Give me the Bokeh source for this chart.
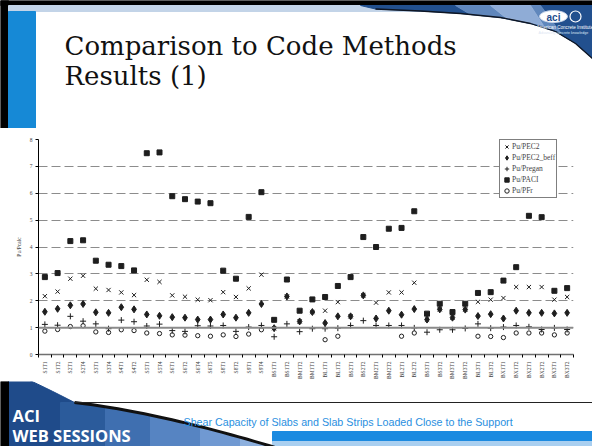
import numpy as np
from math import pi
from bokeh.plotting import figure
from bokeh.layouts import column
from bokeh.models import (ColumnDataSource, Range1d, LinearAxis, FixedTicker, Grid, Span)
from bokeh.core.properties import value
from bokeh.embed import file_html
from bokeh.resources import INLINE

nan = np.nan

categories = ["S1T1","S1T2","S2T1","S2T4","S3T1","S3T4","S4T1","S4T2","S5T1","S5T4",
              "S6T1","S6T2","S6T4","S6T5","S8T1","S8T2","S9T1","S9T4","BS1T1","BS1T2",
              "BM1T2","BM1T1","BL1T1","BL1T2","BS2T1","BS2T2","BM2T1","BM2T2","BL2T1","BL2T2",
              "BS3T1","BS3T2","BM3T1","BM3T2","BL3T1","BL3T2","BX1T1","BX1T2","BX2T1","BX2T2",
              "BX3T1","BX3T2"]

pu_pec2 = [2.17,2.34,2.82,2.93,2.45,2.40,2.31,2.21,2.78,2.70,
           2.20,2.15,2.04,2.02,2.32,2.14,2.46,2.97,0.98,2.16,
           1.23,1.58,1.63,1.95,1.42,2.20,1.93,2.31,2.31,2.67,
           1.30,1.68,1.37,1.67,1.96,2.04,2.10,2.51,2.51,2.51,
           2.04,2.14]
pu_pec2_beff = [1.59,1.70,1.83,1.88,1.57,1.55,1.76,1.68,1.49,1.44,
                1.39,1.37,1.30,1.30,1.49,1.37,1.55,1.88,0.98,2.16,
                1.23,1.58,1.17,1.42,1.42,2.20,1.34,1.63,1.48,1.69,
                1.30,1.68,1.37,1.67,1.43,1.50,1.34,1.63,1.55,1.55,
                1.53,1.55]
pu_pregan = [1.12,1.09,1.42,1.24,1.14,0.96,1.28,1.22,1.06,1.13,
             0.89,0.86,1.07,1.06,1.08,0.86,1.02,1.08,0.66,1.14,
             0.85,0.96,0.96,0.98,1.08,1.26,1.08,1.08,1.08,0.99,
             0.83,0.92,0.92,0.97,1.14,0.98,1.02,1.08,1.03,0.93,
             0.99,0.93]
pu_paci = [2.88,3.03,4.22,4.25,3.49,3.34,3.29,3.13,7.49,7.52,
           5.89,5.78,5.69,5.63,3.12,2.82,5.12,6.04,1.29,2.79,
           1.63,2.05,2.14,2.55,2.88,4.37,4.00,4.68,4.71,5.33,
           1.52,1.89,1.58,1.89,2.29,2.32,2.75,3.25,5.16,5.11,
           2.37,2.47]
pu_pfr = [0.87,0.93,1.04,1.07,0.84,0.82,0.92,0.89,0.80,0.78,
          0.73,0.72,0.70,0.68,0.73,0.67,0.76,0.92,nan,nan,
          nan,nan,0.55,0.68,nan,nan,nan,nan,0.68,0.80,
          nan,nan,nan,nan,0.68,0.67,0.63,0.80,0.80,0.80,
          0.73,0.80]

series_labels = ["Pu/PEC2", "Pu/PEC2_beff", "Pu/Pregan", "Pu/PACI", "Pu/PFr"]
y_ticks = [0, 1, 2, 3, 4, 5, 6, 7, 8]
y_axis_title = "Pu/Pcalc"
title_lines = ["Comparison to Code Methods", "Results (1)"]
footer_text = "Shear Capacity of Slabs and Slab Strips Loaded Close to the Support"
brand_lines = ["ACI", "WEB SESSIONS"]

idx = list(range(len(categories)))
src = ColumnDataSource(dict(
    x=idx,
    pec2=np.array(pu_pec2, dtype=float),
    beff=np.array(pu_pec2_beff, dtype=float),
    pregan=np.array(pu_pregan, dtype=float),
    paci=np.array(pu_paci, dtype=float),
    pfr=np.array(pu_pfr, dtype=float),
))

W = 592
SERIF = "Liberation Serif"
TOP_H, CHART_H = 128, 253
BOT_H = 446 - TOP_H - CHART_H
FRAME_H = CHART_H - 11 - 27

# ---------------- top (title) panel -----------------
top = figure(width=W, height=TOP_H, x_range=Range1d(0, W), y_range=Range1d(TOP_H, 0),
             output_backend="svg", toolbar_location=None, min_border=0,
             x_axis_type=None, y_axis_type=None, frame_align=False)
top.outline_line_color = None
top.grid.visible = False
top.quad(left=0, right=W, top=0, bottom=5, color="black")
top.quad(left=0, right=8, top=0, bottom=TOP_H, color="black")
top.quad(left=8, right=W, top=5, bottom=11, color="#c3d4e8")
top.quad(left=8, right=35, top=11, bottom=TOP_H, color="#1689d6")
# top-right swoosh
lx = [375, 420, 460, 500, 530, 555, 575, 592]
ly = [8.5, 10.5, 13, 17, 23, 31, 43, 58]
top.patch([360, 600, 600] + lx[::-1], [5, 5, 60] + ly[::-1], color="#22508e")
top.patch([455, 540, 560, 548, 530, 500, 470], [5, 5, 32, 27, 23, 17, 14], color="#6b90c4", alpha=0.85)
top.patch([490, 530, 543, 530, 505], [5, 5, 25, 22, 17], color="#9bb5dc", alpha=0.8)
top.line(lx, ly, line_color="#0e1624", line_width=1.3)
top.ellipse(x=[553], y=[16], width=28, height=12, fill_color="white", line_color="#c9d6ea")
top.circle(x=[575], y=[16], radius=5.5, fill_color=None, line_color="white", line_width=1.2)
top.text(x=[553], y=[16.5], text=["aci"], text_font=value("Liberation Sans"), text_font_style="bold",
         text_font_size="10px", text_color="#1f4d8c", text_align="center", text_baseline="middle")
top.text(x=[536], y=[27], text=["American Concrete Institute"], text_font=value("Liberation Sans"),
         text_font_size="4.6px", text_color="white", text_baseline="middle")
top.text(x=[538], y=[32.5], text=["Advancing concrete knowledge"], text_font=value("Liberation Sans"),
         text_font_size="3.6px", text_color="#dde6f3", text_baseline="middle")
top.text(x=[64, 64], y=[45, 75], text=title_lines, text_font=value("DejaVu Serif"),
         text_font_size="26px", text_color="#111111", text_baseline="alphabetic")

# ---------------- chart -----------------
p = figure(width=W, height=CHART_H, x_range=Range1d(-0.5, len(categories) - 0.5), y_range=Range1d(0, 8),
           output_backend="svg", toolbar_location=None,
           min_border_left=38, min_border_right=19, min_border_top=11, min_border_bottom=27,
           x_axis_type=None, y_axis_type=None, frame_align=False)
p.outline_line_color = None

yax = LinearAxis(ticker=FixedTicker(ticks=y_ticks, minor_ticks=[]))
yax.axis_line_color = "black"
yax.major_tick_out = 3
yax.major_tick_in = 0
yax.major_label_text_font = SERIF
yax.major_label_text_font_size = "5.5px"
yax.major_label_standoff = 3
yax.axis_label = y_axis_title
yax.axis_label_text_font = SERIF
yax.axis_label_text_font_size = "5.5px"
yax.axis_label_text_font_style = "normal"
yax.axis_label_standoff = 5
p.add_layout(yax, "left")

xax = LinearAxis(ticker=FixedTicker(ticks=idx, minor_ticks=[i - 0.5 for i in range(len(categories) + 1)]))
xax.major_label_overrides = {i: c for i, c in enumerate(categories)}
xax.major_label_orientation = pi / 2
xax.major_tick_line_color = None
xax.major_tick_out = 0
xax.major_tick_in = 0
xax.minor_tick_out = 3
xax.minor_tick_in = 0
xax.minor_tick_line_color = "black"
xax.axis_line_color = "#707070"
xax.axis_line_width = 1.5
xax.major_label_text_font = SERIF
xax.major_label_text_font_size = "5.5px"
xax.major_label_standoff = 4
p.add_layout(xax, "below")

p.add_layout(Grid(dimension=1, ticker=FixedTicker(ticks=y_ticks[1:]), grid_line_color="#8c8c8c",
                  grid_line_dash="9 4", grid_line_width=1))
p.add_layout(Span(location=1, dimension="width", line_color="#8a8a8a", line_width=2))

C = "#1e1e1e"
p.scatter("x", "pec2", source=src, marker="x", size=6, line_color=C, line_width=1, legend_label=series_labels[0])
p.scatter("x", "beff", source=src, marker="diamond", size=7, fill_color=C, line_color=C, legend_label=series_labels[1])
p.scatter("x", "pregan", source=src, marker="cross", size=6, line_color=C, line_width=1, legend_label=series_labels[2])
p.scatter("x", "paci", source=src, marker="square", size=5, fill_color=C, line_color=C, legend_label=series_labels[3])
p.scatter("x", "pfr", source=src, marker="circle", size=4.3, fill_color=None, line_color=C, line_width=1, legend_label=series_labels[4])

leg = p.legend[0]
leg.location = (461, FRAME_H - 59)
leg.label_text_font = SERIF
leg.label_text_font_size = "7.5px"
leg.glyph_width = 11
leg.glyph_height = 11
leg.label_height = 11
leg.label_standoff = 0
leg.spacing = 0
leg.padding = 1
leg.margin = 0
leg.border_line_color = "black"
leg.border_line_width = 1
leg.background_fill_color = "white"
leg.background_fill_alpha = 1

# ---------------- bottom panel -----------------
Y0 = TOP_H + CHART_H
bot = figure(width=W, height=BOT_H, x_range=Range1d(0, W), y_range=Range1d(446, Y0),
             output_backend="svg", toolbar_location=None, min_border=0,
             x_axis_type=None, y_axis_type=None, frame_align=False)
bot.outline_line_color = None
bot.grid.visible = False

t = np.linspace(0, 1, 30)
cx = (1 - t) ** 2 * 74 + 2 * (1 - t) * t * 160 + t ** 2 * 278
cy = (1 - t) ** 2 * 402 + 2 * (1 - t) * t * 412 + t ** 2 * 448
s = np.linspace(0, 1, 10)
topx = list(8 + s * 66)
topy = list(371 + 31 * s ** 1.1)
bot.patch(topx + list(cx) + [8], topy + list(cy) + [448], color="#1f4b8a")
for x0, col in [(60, "#2b5b9b"), (105, "#3f6fb0"), (150, "#5684c2"), (200, "#7099d2"), (240, "#8db0de")]:
    m = cx >= x0
    bot.patch([x0] + list(cx[m]) + [x0], [float(np.interp(x0, cx, cy))] + list(cy[m]) + [448], color=col)
bot.quad(left=0, right=8, top=Y0, bottom=446, color="black")
bot.quad(left=272, right=600, top=431, bottom=441, color="#1b8ae0")
bot.quad(left=272, right=600, top=441, bottom=448, color="#a9cff0")
bot.line(cx, cy, line_color="#111111", line_width=3)
bot.line([74, 600], [402, 402], line_color="#222222", line_width=1.2)
bot.text(x=[12, 12], y=[415, 435], text=brand_lines, text_font=value("Open Sans"), text_font_style="bold",
         text_font_size="16.5px", text_color="white", text_baseline="alphabetic")
bot.text(x=[183], y=[421], text=[footer_text], text_font=value("Liberation Sans"),
         text_font_size="10.7px", text_color="#2a8fe0", text_baseline="alphabetic")

layout = column(top, p, bot, spacing=0)
open("out.html", "w").write(file_html(layout, INLINE))
